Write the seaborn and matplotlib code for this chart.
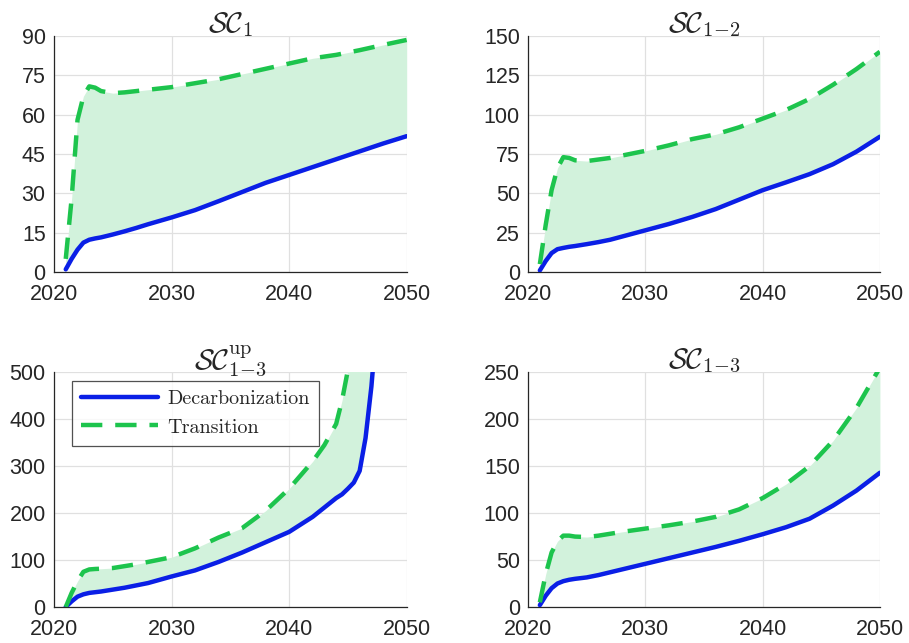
import matplotlib
matplotlib.use("Agg")
import matplotlib.pyplot as plt
import seaborn as sns
import pandas as pd
import numpy as np

# ---------------- data ----------------
years = [2021, 2021.5, 2022, 2022.5, 2023, 2023.5, 2024, 2025, 2026, 2027, 2028,
         2030, 2032, 2034, 2036, 2038, 2040, 2042, 2044, 2046, 2048, 2050]

sc1_dec = [1, 5, 8.5, 11.2, 12.3, 12.8, 13.2, 14.3, 15.5, 16.8, 18.2,
           20.8, 23.6, 27, 30.5, 34, 37, 40, 43, 46, 49, 51.8]
sc1_tra = [5, 28, 58, 67, 70.8, 70.3, 69, 68.2, 68.5, 69, 69.5,
           70.5, 72, 73.5, 75.5, 77.5, 79.5, 81.5, 82.8, 84.6, 86.6, 88.5]

sc12_dec = [1, 7, 12, 14.5, 15.3, 16, 16.5, 17.7, 19, 20.5, 22.5,
            26.5, 30.5, 35, 40, 46, 52, 57, 62.2, 68.5, 76.5, 86]
sc12_tra = [5, 30, 52, 66, 73, 72.5, 71, 70.5, 71.5, 72.5, 74,
            77, 80.5, 84.5, 87.5, 92, 97.5, 103, 110, 119, 129, 140]

years_up = [2021, 2021.5, 2022, 2022.5, 2023, 2023.5, 2024, 2025, 2026, 2027, 2028,
            2030, 2032, 2034, 2036, 2038, 2040, 2042, 2043, 2044, 2044.5, 2045,
            2045.5, 2046, 2046.5, 2047, 2047.5]
sc13up_dec = [0, 12, 22, 27, 30, 31.5, 33, 37, 41, 46, 51,
              65, 78, 96, 116, 138, 160, 192, 212, 232, 240, 252,
              265, 290, 360, 470, 620]
sc13up_tra = [0, 30, 55, 75, 80, 81, 81.5, 83, 87, 91, 96,
              106, 125, 148, 168, 205, 252, 310, 345, 390, 440, 505,
              650, 800, 950, 1100, 1250]

sc13_dec = [2, 12, 20, 25, 27.5, 29, 30, 31.5, 34, 37, 40,
            46, 52, 58, 64, 70.5, 77.5, 85, 94, 108, 124, 143]
sc13_tra = [5, 35, 58, 70, 76, 76, 75, 74.5, 76, 78, 80,
            83.5, 87, 91, 96, 104, 116, 131, 150, 177, 212, 255]

titles = [r'$\mathcal{SC}_{1}$', r'$\mathcal{SC}_{1\!-\!2}$',
          r'$\mathcal{SC}_{1\!-\!3}^{\mathrm{up}}$', r'$\mathcal{SC}_{1\!-\!3}$']
yticks_list = [[0, 15, 30, 45, 60, 75, 90],
               [0, 25, 50, 75, 100, 125, 150],
               [0, 100, 200, 300, 400, 500],
               [0, 50, 100, 150, 200, 250]]
xticks = [2020, 2030, 2040, 2050]
labels = ['Decarbonization', 'Transition']

panels = [(years, sc1_dec, sc1_tra), (years, sc12_dec, sc12_tra),
          (years_up, sc13up_dec, sc13up_tra), (years, sc13_dec, sc13_tra)]

# ---------------- style ----------------
sns.set_style("white")
plt.rcParams['font.family'] = ['Liberation Sans', 'DejaVu Sans']
plt.rcParams['mathtext.fontset'] = 'cm'

BLUE = '#0a1fe6'
GREEN = '#1dc44d'
FILL = '#d2f2dc'

fig = plt.figure(figsize=(9.09, 6.43), dpi=100)
positions = [[0.0594, 0.577, 0.388, 0.367],
             [0.581, 0.577, 0.387, 0.367],
             [0.0594, 0.056, 0.388, 0.365],
             [0.581, 0.056, 0.387, 0.365]]

for i, ((x, dec, tra), pos) in enumerate(zip(panels, positions)):
    ax = fig.add_axes(pos)
    df = pd.DataFrame({'year': x, labels[0]: dec, labels[1]: tra})
    ax.fill_between(df['year'], df[labels[0]], df[labels[1]],
                    color=FILL, linewidth=0, zorder=1)
    sns.lineplot(data=df, x='year', y=labels[0], ax=ax, color=BLUE,
                 linewidth=3.2, label=labels[0], zorder=3)
    sns.lineplot(data=df, x='year', y=labels[1], ax=ax, color=GREEN,
                 linewidth=3.2, label=labels[1], zorder=3)
    ax.lines[-1].set_dashes((4.8, 2.9))
    yt = yticks_list[i]
    ax.set_xlim(2020, 2050)
    ax.set_ylim(yt[0], yt[-1])
    ax.set_xticks(xticks)
    ax.set_yticks(yt)
    ax.set_xlabel('')
    ax.set_ylabel('')
    ax.grid(True, color='#e0e0e0', linewidth=0.9, zorder=0)
    ax.set_axisbelow(True)
    for s in ['top', 'right']:
        ax.spines[s].set_visible(False)
    for s in ['left', 'bottom']:
        ax.spines[s].set_color('#262626')
        ax.spines[s].set_linewidth(0.9)
    ax.tick_params(axis='both', direction='in', length=4, width=0.9,
                   colors='#262626', labelsize=15.5, labelcolor='#262626')
    ax.tick_params(axis='y', pad=6)
    ax.tick_params(axis='x', pad=9)
    ax.set_title(titles[i], fontsize=21, pad=3)
    if i == 2:
        leg = ax.legend(loc='upper left', bbox_to_anchor=(0.051, 0.962),
                        borderaxespad=0, frameon=True, fancybox=False,
                        handlelength=3.8, prop={'family': 'cmr10', 'size': 14.5},
                        borderpad=0.45, labelspacing=0.5, handletextpad=0.5)
        leg.get_frame().set_edgecolor('#262626')
        leg.get_frame().set_linewidth(0.9)
    else:
        ax.legend().remove()

fig.savefig('out.png', dpi=100)
